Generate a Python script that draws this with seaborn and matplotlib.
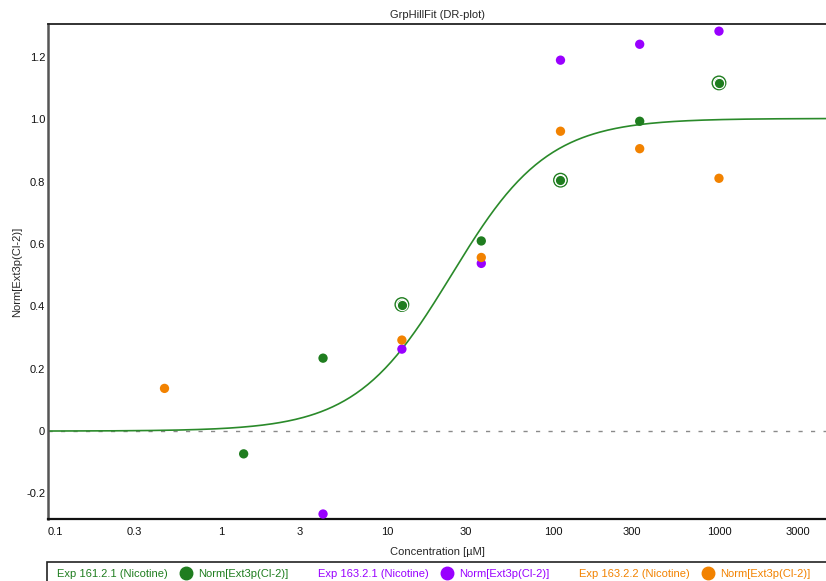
import numpy as np
import pandas as pd
import matplotlib
matplotlib.use("Agg")
import matplotlib.pyplot as plt
from matplotlib.lines import Line2D
from matplotlib.patches import Rectangle
import seaborn as sns

# measured points (concentration in uM, normalised response)
exp_161_conc = [1.37, 4.12, 12.3, 37.0, 111.0, 333.0, 1000.0]
exp_161_resp = [-0.073, 0.234, 0.406, 0.610, 0.805, 0.994, 1.117]
exp_161_ringed = [False, False, True, False, True, False, True]

exp_163_1_conc = [4.12, 12.3, 37.0, 111.0, 333.0, 1000.0]
exp_163_1_resp = [-0.266, 0.263, 0.538, 1.190, 1.241, 1.283]

exp_163_2_conc = [0.457, 12.3, 37.0, 111.0, 333.0, 1000.0]
exp_163_2_resp = [0.137, 0.292, 0.557, 0.962, 0.906, 0.811]

series_names = ["Exp 161.2.1 (Nicotine)", "Exp 163.2.1 (Nicotine)", "Exp 163.2.2 (Nicotine)"]
series_colors = ["#1f7d1f", "#9900ff", "#f28200"]
measure_label = "Norm[Ext3p(Cl-2)]"

# Hill fit parameters for the fitted curve
hill_bottom = 0.0
hill_top = 1.003
hill_ec50 = 24.5
hill_n = 1.5

x_ticks = [0.1, 0.3, 1, 3, 10, 30, 100, 300, 1000, 3000]
x_tick_labels = ["0.1", "0.3", "1", "3", "10", "30", "100", "300", "1000", "3000"]
y_ticks = [-0.2, 0, 0.2, 0.4, 0.6, 0.8, 1.0, 1.2]
y_tick_labels = ["-0.2", "0", "0.2", "0.4", "0.6", "0.8", "1.0", "1.2"]

sns.set_theme(style="white")
plt.rcParams["font.family"] = ["Liberation Sans", "DejaVu Sans"]
fs = 8

df = pd.concat([
    pd.DataFrame({"conc": exp_161_conc, "resp": exp_161_resp, "exp": series_names[0]}),
    pd.DataFrame({"conc": exp_163_1_conc, "resp": exp_163_1_resp, "exp": series_names[1]}),
    pd.DataFrame({"conc": exp_163_2_conc, "resp": exp_163_2_resp, "exp": series_names[2]}),
], ignore_index=True)
palette = dict(zip(series_names, series_colors))

xmin, xmax = 0.0908, 4413
fit_x = np.logspace(np.log10(xmin), np.log10(xmax), 400)
fit_y = hill_bottom + (hill_top - hill_bottom) / (1 + (hill_ec50 / fit_x) ** hill_n)
fit = pd.DataFrame({"conc": fit_x, "resp": fit_y})

fig = plt.figure(figsize=(8.26, 5.81), dpi=100)
ax = fig.add_axes([48 / 826, 1 - 519 / 581, 1 - 48 / 826, (519 - 24) / 581])

ax.axhline(0, color="#8a8a8a", linewidth=1.0, dashes=(3, 6), zorder=1)
sns.lineplot(data=fit, x="conc", y="resp", color="#2a8a2a", linewidth=1.2, ax=ax, zorder=2)

ringed = df.iloc[:len(exp_161_conc)][exp_161_ringed]
sns.scatterplot(data=ringed, x="conc", y="resp", s=95, facecolor="none",
                edgecolor=series_colors[0], linewidth=1.0, ax=ax, zorder=3, legend=False)
sns.scatterplot(data=df, x="conc", y="resp", hue="exp", hue_order=series_names,
                palette=palette, s=45, linewidth=0, ax=ax, zorder=4, legend=False)
sns.scatterplot(data=ringed, x="conc", y="resp", s=55, color=series_colors[0],
                edgecolor="white", linewidth=0.8, ax=ax, zorder=5, legend=False)

ax.set_xscale("log")
ax.set_xlim(xmin, xmax)
ax.set_ylim(-0.282, 1.306)
ax.set_xticks(x_ticks)
ax.set_xticklabels(x_tick_labels)
ax.xaxis.set_minor_locator(matplotlib.ticker.NullLocator())
ax.set_yticks(y_ticks)
ax.set_yticklabels(y_tick_labels)
ax.tick_params(axis="both", length=0, labelsize=fs, colors="#111111")
ax.tick_params(axis="x", pad=6)
ax.tick_params(axis="y", pad=2)

ax.set_xlabel("Concentration [\u00b5M]", fontsize=fs, labelpad=7)
ax.set_ylabel(measure_label, fontsize=fs, labelpad=2.5)
ax.set_title("GrpHillFit (DR-plot)", fontsize=fs, pad=4)

ax.spines["right"].set_visible(False)
ax.spines["top"].set_color("#222222")
ax.spines["top"].set_linewidth(1.3)
ax.spines["left"].set_color("#555555")
ax.spines["left"].set_linewidth(1.8)
ax.spines["bottom"].set_color("#111111")
ax.spines["bottom"].set_linewidth(1.6)

# legend: "Exp ..." text, marker, measure label for each series
handles, labels, label_colors = [], [], []
for name, color in zip(series_names, series_colors):
    handles.append(Line2D([], [], linestyle="none"))
    labels.append(name)
    handles.append(Line2D([], [], linestyle="none", marker="o", markersize=9,
                          markerfacecolor=color, markeredgecolor=color))
    labels.append(measure_label)
    label_colors += [color, color]

fig.legend(handles, labels, ncol=6, loc="center left",
           bbox_to_anchor=(37 / 826, 1 - 574 / 581), frameon=False,
           fontsize=fs, labelcolor=label_colors, handlelength=1.5,
           handletextpad=0.33, columnspacing=0.87, borderpad=0, borderaxespad=0)
fig.add_artist(Rectangle((47 / 826, -0.05), 1.0, 0.05 + 1 - 562 / 581,
                         transform=fig.transFigure, fill=False,
                         edgecolor="#222222", linewidth=1.2, clip_on=False))

fig.savefig("out.png", dpi=100)
